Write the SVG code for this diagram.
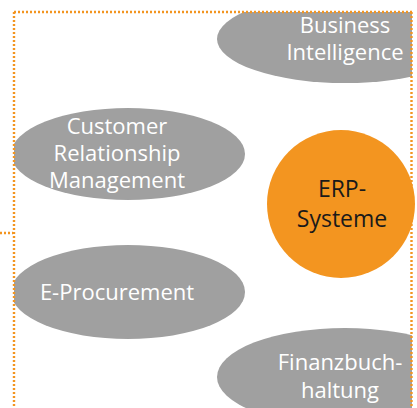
<svg xmlns="http://www.w3.org/2000/svg" width="417" height="408" viewBox="0 0 417 408">
<style>
.bub{fill:#a0a0a0}
.lbl{font-family:"Open Sans","Noto Sans",sans-serif;font-size:22px;fill:#ffffff;text-anchor:middle}
.erp{font-family:"Open Sans","Noto Sans",sans-serif;font-size:23px;fill:#1a1a1a;text-anchor:middle}
.dot{fill:none;stroke:#f39520;stroke-width:2.4;stroke-dasharray:2 2}
</style>
<defs>
<clipPath id="frame"><rect x="14" y="12" width="398" height="396"/></clipPath>
</defs>
<rect width="417" height="408" fill="#ffffff"/>
<g clip-path="url(#frame)">
<g id="bi"><ellipse class="bub" cx="345" cy="39" rx="128" ry="44"/>
<text class="lbl" x="345" y="33">Business</text><text class="lbl" x="345" y="60">Intelligence</text></g>
<g id="crm"><ellipse class="bub" cx="128" cy="154" rx="117" ry="46"/>
<text class="lbl" x="117" y="134">Customer</text><text class="lbl" x="117" y="161">Relationship</text><text class="lbl" x="117" y="188">Management</text></g>
<g id="eproc"><ellipse class="bub" cx="128" cy="292" rx="117" ry="47"/>
<text class="lbl" x="117" y="300">E-Procurement</text></g>
<g id="fibu"><ellipse class="bub" cx="345" cy="377" rx="128" ry="49"/>
<text class="lbl" x="340" y="369.5">Finanzbuch-</text><text class="lbl" x="340" y="398">haltung</text></g>
</g>
<g id="erp"><circle cx="341" cy="204" r="74" fill="#f39520"/>
<text class="erp" x="342" y="197">ERP-</text><text class="erp" x="342" y="227">Systeme</text></g>
<g id="connectors">
<path class="dot" d="M14 12 H412 M14 12 V408 M411.5 12 V408 M0 233 H13"/>
</g>
</svg>
